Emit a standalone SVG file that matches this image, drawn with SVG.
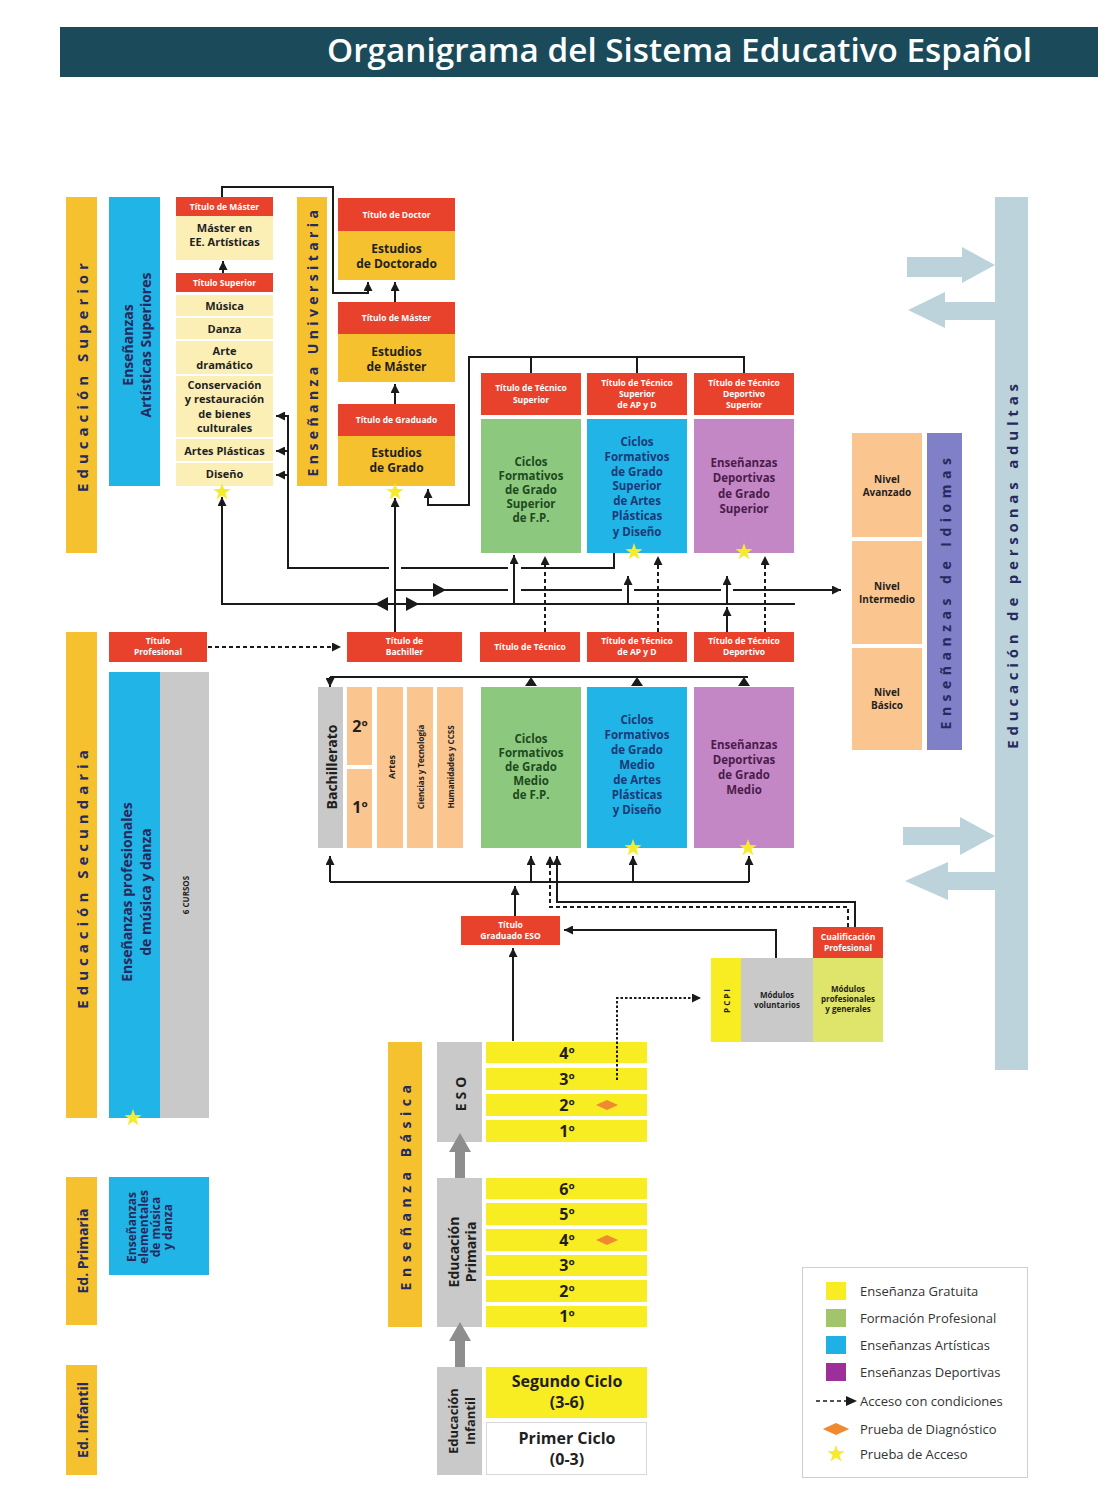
<svg xmlns="http://www.w3.org/2000/svg" width="1098" height="1495" viewBox="0 0 1098 1495">
<style>
.t{font-family:"Open Sans","DejaVu Sans",sans-serif;font-weight:700;text-anchor:middle}
.rt{fill:#fff;font-size:8.5px}
.k{fill:#1f1f1f}
.nv{fill:#262a5c}
.g{fill:#1e4a1e;font-size:11.5px}
.b{fill:#1b3a78;font-size:11.5px}
.p{fill:#4a1c4c;font-size:11.5px}
.red{fill:#e8412c}
.gold{fill:#f6c12e}
.cy{fill:#20b4e7}
.gr{fill:#8cc97e}
.pu{fill:#c487c6}
.or{fill:#fbc590}
.gy{fill:#c9c9c9}
.ye{fill:#f8ec22}
.cr{fill:#fcefb6}
.ln{stroke:#1a1a1a;stroke-width:2;fill:none}
.ds{stroke-dasharray:4 3}
.dt{stroke-dasharray:2.5 2}
.star{fill:#f6ea2c}
.dia{fill:#ef8a2e}
.leg{font-family:"Open Sans","DejaVu Sans",sans-serif;font-size:13px;fill:#333}
</style>
<defs>
<marker id="a" viewBox="0 0 10 10" refX="10" refY="5" markerWidth="4.5" markerHeight="4.5" orient="auto"><path d="M0,0 L10,5 L0,10 z" fill="#1a1a1a"/></marker>
<path id="st" d="M0,-9 L2.12,-2.91 L8.56,-2.78 L3.42,1.11 L5.29,7.28 L0,3.6 L-5.29,7.28 L-3.42,1.11 L-8.56,-2.78 L-2.12,-2.91 Z"/>
<path id="dm" d="M-11,0 L0,-5 L11,0 L0,5 Z"/>
</defs>
<rect width="1098" height="1495" fill="#fff"/>

<g id="title">
<rect x="60" y="27" width="1038" height="50" fill="#1b4b5b"/>
<text x="1032" y="62" text-anchor="end" font-family="'Open Sans','DejaVu Sans',sans-serif" font-weight="600" font-size="33" fill="#fff" textLength="705" lengthAdjust="spacingAndGlyphs">Organigrama del Sistema Educativo Español</text>
</g>

<g id="side-labels">
<rect x="66" y="197" width="31" height="356" class="gold"/>
<text class="t nv" font-size="15" letter-spacing="5" transform="translate(82,375) rotate(-90)" dominant-baseline="central">Educación Superior</text>
<rect x="66" y="632" width="31" height="486" class="gold"/>
<text class="t nv" font-size="15" letter-spacing="5" transform="translate(82,877) rotate(-90)" dominant-baseline="central">Educación Secundaria</text>
<rect x="66" y="1177" width="31" height="148" class="gold"/>
<text class="t nv" font-size="14" transform="translate(82,1251) rotate(-90)" dominant-baseline="central">Ed. Primaria</text>
<rect x="66" y="1365" width="31" height="110" class="gold"/>
<text class="t nv" font-size="14" transform="translate(82,1420) rotate(-90)" dominant-baseline="central">Ed. Infantil</text>
</g>

<g id="artisticas-superiores">
<rect x="109" y="197" width="51" height="289" class="cy"/>
<text class="t nv" font-size="14" transform="translate(127,345) rotate(-90)" dominant-baseline="central">Enseñanzas</text>
<text class="t nv" font-size="14" transform="translate(145,345) rotate(-90)" dominant-baseline="central">Artísticas Superiores</text>
</g>

<g id="master-artisticas">
<rect x="176" y="197" width="97" height="19" class="red"/>
<text class="t rt" x="224.5" y="210">Título de Máster</text>
<rect x="176" y="216" width="97" height="44" class="cr"/>
<text class="t k" font-size="11" x="224.5" y="232">Máster en</text>
<text class="t k" font-size="11" x="224.5" y="246">EE. Artísticas</text>
</g>

<g id="titulo-superior-artes">
<rect x="176" y="273" width="97" height="19" class="red"/>
<text class="t rt" x="224.5" y="286">Título Superior</text>
<rect x="176" y="295" width="97" height="21" class="cr"/>
<text class="t k" font-size="11" x="224.5" y="310">Música</text>
<rect x="176" y="318" width="97" height="21" class="cr"/>
<text class="t k" font-size="11" x="224.5" y="333">Danza</text>
<rect x="176" y="341" width="97" height="33" class="cr"/>
<text class="t k" font-size="11" x="224.5" y="355">Arte</text>
<text class="t k" font-size="11" x="224.5" y="369">dramático</text>
<rect x="176" y="376" width="97" height="61" class="cr"/>
<text class="t k" font-size="11" x="224.5" y="389">Conservación</text>
<text class="t k" font-size="11" x="224.5" y="403">y restauración</text>
<text class="t k" font-size="11" x="224.5" y="418">de bienes</text>
<text class="t k" font-size="11" x="224.5" y="432">culturales</text>
<rect x="176" y="439" width="97" height="22" class="cr"/>
<text class="t k" font-size="11" x="224.5" y="455">Artes Plásticas</text>
<rect x="176" y="463" width="97" height="23" class="cr"/>
<text class="t k" font-size="11" x="224.5" y="478">Diseño</text>
</g>

<g id="universitaria">
<rect x="297" y="197" width="30" height="289" class="gold"/>
<text class="t nv" font-size="14" letter-spacing="4.4" transform="translate(312,341) rotate(-90)" dominant-baseline="central">Enseñanza Universitaria</text>
</g>

<g id="doctorado">
<rect x="338" y="198" width="117" height="33" class="red"/>
<text class="t rt" x="396.5" y="218">Título de Doctor</text>
<rect x="338" y="231" width="117" height="49" class="gold"/>
<text class="t k" font-size="12" x="396.5" y="253">Estudios</text>
<text class="t k" font-size="12" x="396.5" y="268">de Doctorado</text>
</g>
<g id="master">
<rect x="338" y="302" width="117" height="32" class="red"/>
<text class="t rt" x="396.5" y="321">Título de Máster</text>
<rect x="338" y="334" width="117" height="48" class="gold"/>
<text class="t k" font-size="12" x="396.5" y="356">Estudios</text>
<text class="t k" font-size="12" x="396.5" y="371">de Máster</text>
</g>
<g id="grado">
<rect x="338" y="404" width="117" height="32" class="red"/>
<text class="t rt" x="396.5" y="423">Título de Graduado</text>
<rect x="338" y="436" width="117" height="50" class="gold"/>
<text class="t k" font-size="12" x="396.5" y="457">Estudios</text>
<text class="t k" font-size="12" x="396.5" y="472">de Grado</text>
</g>

<g id="fp-superior">
<rect x="481" y="373" width="100" height="42" class="red"/>
<text class="t rt" x="531" y="391">Título de Técnico</text>
<text class="t rt" x="531" y="403">Superior</text>
<rect x="481" y="419" width="100" height="134" class="gr"/>
<text class="t g" x="531" y="466">Ciclos</text>
<text class="t g" x="531" y="480">Formativos</text>
<text class="t g" x="531" y="494">de Grado</text>
<text class="t g" x="531" y="508">Superior</text>
<text class="t g" x="531" y="522">de F.P.</text>
</g>
<g id="apd-superior">
<rect x="587" y="373" width="100" height="42" class="red"/>
<text class="t rt" x="637" y="386">Título de Técnico</text>
<text class="t rt" x="637" y="397">Superior</text>
<text class="t rt" x="637" y="408">de AP y D</text>
<rect x="587" y="419" width="100" height="134" class="cy"/>
<text class="t b" x="637" y="446">Ciclos</text>
<text class="t b" x="637" y="461">Formativos</text>
<text class="t b" x="637" y="476">de Grado</text>
<text class="t b" x="637" y="490">Superior</text>
<text class="t b" x="637" y="505">de Artes</text>
<text class="t b" x="637" y="520">Plásticas</text>
<text class="t b" x="637" y="536">y Diseño</text>
</g>
<g id="dep-superior">
<rect x="694" y="373" width="100" height="42" class="red"/>
<text class="t rt" x="744" y="386">Título de Técnico</text>
<text class="t rt" x="744" y="397">Deportivo</text>
<text class="t rt" x="744" y="408">Superior</text>
<rect x="694" y="419" width="100" height="134" class="pu"/>
<text class="t p" x="744" y="467">Enseñanzas</text>
<text class="t p" x="744" y="482">Deportivas</text>
<text class="t p" x="744" y="498">de Grado</text>
<text class="t p" x="744" y="513">Superior</text>
</g>

<g id="idiomas">
<rect x="852" y="433" width="70" height="104" class="or"/>
<text class="t k" font-size="10" x="887" y="483">Nivel</text>
<text class="t k" font-size="10" x="887" y="496">Avanzado</text>
<rect x="852" y="541" width="70" height="103" class="or"/>
<text class="t k" font-size="10" x="887" y="590">Nivel</text>
<text class="t k" font-size="10" x="887" y="603">Intermedio</text>
<rect x="852" y="648" width="70" height="102" class="or"/>
<text class="t k" font-size="10" x="887" y="696">Nivel</text>
<text class="t k" font-size="10" x="887" y="709">Básico</text>
<rect x="927" y="433" width="35" height="317" fill="#7f80c8"/>
<text class="t nv" font-size="14" letter-spacing="5.5" transform="translate(945,591) rotate(-90)" dominant-baseline="central">Enseñanzas de Idiomas</text>
</g>

<g id="adultas">
<rect x="995" y="197" width="33" height="873" fill="#bcd3dc"/>
<text class="t nv" font-size="15" letter-spacing="4.8" transform="translate(1012,564) rotate(-90)" dominant-baseline="central">Educación de personas adultas</text>
<polygon points="907,257 962,257 962,247 995,265 962,283 962,277 907,277" fill="#bcd3dc"/>
<polygon points="995,302 945,302 945,292 908,310 945,328 945,320 995,320" fill="#bcd3dc"/>
<polygon points="903,827 960,827 960,817 995,836 960,855 960,845 903,845" fill="#bcd3dc"/>
<polygon points="995,872 948,872 948,862 905,881 948,900 948,890 995,890" fill="#bcd3dc"/>
</g>

<g id="musica-danza-prof">
<rect x="109" y="632" width="98" height="30" class="red"/>
<text class="t rt" x="158" y="644">Título</text>
<text class="t rt" x="158" y="655">Profesional</text>
<rect x="109" y="672" width="51" height="446" class="cy"/>
<text class="t nv" font-size="14" transform="translate(126,892) rotate(-90)" dominant-baseline="central">Enseñanzas profesionales</text>
<text class="t nv" font-size="14" transform="translate(145,892) rotate(-90)" dominant-baseline="central">de música y danza</text>
<rect x="160" y="672" width="49" height="446" class="gy"/>
<text class="t k" font-size="8" transform="translate(185,895) rotate(-90)" dominant-baseline="central">6 CURSOS</text>
</g>

<g id="musica-danza-elem">
<rect x="109" y="1177" width="100" height="98" class="cy"/>
<text class="t nv" font-size="12" transform="translate(131,1227) rotate(-90)" dominant-baseline="central">Enseñanzas</text>
<text class="t nv" font-size="12" transform="translate(143,1227) rotate(-90)" dominant-baseline="central">elementales</text>
<text class="t nv" font-size="12" transform="translate(155,1227) rotate(-90)" dominant-baseline="central">de música</text>
<text class="t nv" font-size="12" transform="translate(167,1227) rotate(-90)" dominant-baseline="central">y danza</text>
</g>

<g id="titulos-medios">
<rect x="347" y="632" width="115" height="30" class="red"/>
<text class="t rt" x="404.5" y="644">Título de</text>
<text class="t rt" x="404.5" y="655">Bachiller</text>
<rect x="480" y="632" width="100" height="30" class="red"/>
<text class="t rt" x="530" y="650">Título de Técnico</text>
<rect x="587" y="632" width="100" height="30" class="red"/>
<text class="t rt" x="637" y="644">Título de Técnico</text>
<text class="t rt" x="637" y="655">de AP y D</text>
<rect x="694" y="632" width="100" height="30" class="red"/>
<text class="t rt" x="744" y="644">Título de Técnico</text>
<text class="t rt" x="744" y="655">Deportivo</text>
</g>

<g id="bachillerato">
<rect x="318" y="687" width="25" height="161" class="gy"/>
<text class="t k" font-size="14" transform="translate(331,767) rotate(-90)" dominant-baseline="central">Bachillerato</text>
<rect x="347" y="687" width="25" height="78" class="or"/>
<text class="t k" font-size="16" x="360" y="732">2º</text>
<rect x="347" y="769" width="25" height="79" class="or"/>
<text class="t k" font-size="16" x="360" y="813">1º</text>
<rect x="377" y="687" width="26" height="161" class="or"/>
<text class="t k" font-size="9" transform="translate(391,767) rotate(-90)" dominant-baseline="central">Artes</text>
<rect x="407" y="687" width="26" height="161" class="or"/>
<text class="t k" font-size="8" transform="translate(420,767) rotate(-90)" dominant-baseline="central">Ciencias y Tecnología</text>
<rect x="437" y="687" width="26" height="161" class="or"/>
<text class="t k" font-size="8" transform="translate(450,767) rotate(-90)" dominant-baseline="central">Humanidades y CCSS</text>
</g>

<g id="fp-medio">
<rect x="481" y="687" width="100" height="161" class="gr"/>
<text class="t g" x="531" y="743">Ciclos</text>
<text class="t g" x="531" y="757">Formativos</text>
<text class="t g" x="531" y="771">de Grado</text>
<text class="t g" x="531" y="785">Medio</text>
<text class="t g" x="531" y="799">de F.P.</text>
</g>
<g id="apd-medio">
<rect x="587" y="687" width="100" height="161" class="cy"/>
<text class="t b" x="637" y="724">Ciclos</text>
<text class="t b" x="637" y="739">Formativos</text>
<text class="t b" x="637" y="754">de Grado</text>
<text class="t b" x="637" y="769">Medio</text>
<text class="t b" x="637" y="784">de Artes</text>
<text class="t b" x="637" y="799">Plásticas</text>
<text class="t b" x="637" y="814">y Diseño</text>
</g>
<g id="dep-medio">
<rect x="694" y="687" width="100" height="161" class="pu"/>
<text class="t p" x="744" y="749">Enseñanzas</text>
<text class="t p" x="744" y="764">Deportivas</text>
<text class="t p" x="744" y="779">de Grado</text>
<text class="t p" x="744" y="794">Medio</text>
</g>

<g id="titulo-eso">
<rect x="461" y="916" width="99" height="29" class="red"/>
<text class="t rt" x="510.5" y="928">Título</text>
<text class="t rt" x="510.5" y="939">Graduado ESO</text>
</g>

<g id="pcpi">
<rect x="813" y="927" width="70" height="31" class="red"/>
<text class="t rt" font-size="8" x="848" y="940">Cualificación</text>
<text class="t rt" font-size="8" x="848" y="951">Profesional</text>
<rect x="711" y="958" width="30" height="84" class="ye"/>
<text class="t k" font-size="8" letter-spacing="2" transform="translate(726,1000) rotate(-90)" dominant-baseline="central">PCPI</text>
<rect x="741" y="958" width="72" height="84" class="gy"/>
<text class="t k" font-size="8" x="777" y="998">Módulos</text>
<text class="t k" font-size="8" x="777" y="1008">voluntarios</text>
<rect x="813" y="958" width="70" height="84" fill="#dfe46a"/>
<text class="t k" font-size="8" x="848" y="992">Módulos</text>
<text class="t k" font-size="8" x="848" y="1002">profesionales</text>
<text class="t k" font-size="8" x="848" y="1012">y generales</text>
</g>

<g id="ensenanza-basica">
<rect x="388" y="1042" width="34" height="285" class="gold"/>
<text class="t nv" font-size="14" letter-spacing="5.5" transform="translate(405,1185) rotate(-90)" dominant-baseline="central">Enseñanza Básica</text>
</g>

<g id="eso">
<rect x="437" y="1042" width="45" height="100" class="gy"/>
<text class="t k" font-size="14" letter-spacing="4" transform="translate(460,1092) rotate(-90)" dominant-baseline="central">ESO</text>
<rect x="486" y="1042" width="161" height="21" class="ye"/><text class="t k" font-size="16" x="567" y="1059">4º</text>
<rect x="486" y="1068" width="161" height="22" class="ye"/><text class="t k" font-size="16" x="567" y="1085">3º</text>
<rect x="486" y="1094" width="161" height="22" class="ye"/><text class="t k" font-size="16" x="567" y="1111">2º</text>
<rect x="486" y="1120" width="161" height="22" class="ye"/><text class="t k" font-size="16" x="567" y="1137">1º</text>
</g>

<g id="primaria">
<rect x="437" y="1178" width="45" height="149" class="gy"/>
<text class="t k" font-size="14" transform="translate(453,1252) rotate(-90)" dominant-baseline="central">Educación</text>
<text class="t k" font-size="14" transform="translate(470,1252) rotate(-90)" dominant-baseline="central">Primaria</text>
<rect x="486" y="1178" width="161" height="21" class="ye"/><text class="t k" font-size="16" x="567" y="1195">6º</text>
<rect x="486" y="1203" width="161" height="22" class="ye"/><text class="t k" font-size="16" x="567" y="1220">5º</text>
<rect x="486" y="1229" width="161" height="22" class="ye"/><text class="t k" font-size="16" x="567" y="1246">4º</text>
<rect x="486" y="1255" width="161" height="21" class="ye"/><text class="t k" font-size="16" x="567" y="1271">3º</text>
<rect x="486" y="1280" width="161" height="22" class="ye"/><text class="t k" font-size="16" x="567" y="1297">2º</text>
<rect x="486" y="1306" width="161" height="21" class="ye"/><text class="t k" font-size="16" x="567" y="1322">1º</text>
</g>

<g id="infantil">
<rect x="437" y="1367" width="45" height="108" class="gy"/>
<text class="t k" font-size="13" transform="translate(453,1421) rotate(-90)" dominant-baseline="central">Educación</text>
<text class="t k" font-size="13" transform="translate(470,1421) rotate(-90)" dominant-baseline="central">Infantil</text>
<rect x="486" y="1367" width="161" height="51" class="ye"/>
<text class="t k" font-size="16" x="567" y="1387">Segundo Ciclo</text>
<text class="t k" font-size="16" x="567" y="1408">(3-6)</text>
<rect x="486.5" y="1422.5" width="160" height="52" fill="#fff" stroke="#d8d8d8"/>
<text class="t k" font-size="16" x="567" y="1444">Primer Ciclo</text>
<text class="t k" font-size="16" x="567" y="1465">(0-3)</text>
</g>

<g id="connectors">
<path class="ln" d="M222,197 V187 H333 V293 H368 V282" marker-end="url(#a)"/>
<path class="ln" d="M223,273 V261" marker-end="url(#a)"/>
<path class="ln" d="M395,302 V282" marker-end="url(#a)"/>
<path class="ln" d="M395,404 V384" marker-end="url(#a)"/>
<path class="ln" d="M531,373 V357 M637,373 V357"/>
<path class="ln" d="M744,373 V357 H469 V505 H428 V489" marker-end="url(#a)"/>
<path class="ln" d="M614,553 V568 H521 M508,568 H401"/>
<path class="ln" d="M389,568 H288 V416 H276" marker-end="url(#a)"/>
<path class="ln" d="M288,451 H276" marker-end="url(#a)"/>
<path class="ln" d="M288,475 H276" marker-end="url(#a)"/>
<path class="ln" d="M395,632 V498" marker-end="url(#a)"/>
<path class="ln" d="M795,604 H222 V497" marker-end="url(#a)"/>
<polygon points="375,604 388,597 388,611" fill="#1a1a1a"/>
<polygon points="419,604 406,597 406,611" fill="#1a1a1a"/>
<path class="ln" d="M395,590 H508 M521,590 H622 M634,590 H721"/>
<path class="ln" d="M733,590 H841" marker-end="url(#a)"/>
<polygon points="446,590 433,583 433,597" fill="#1a1a1a"/>
<path class="ln" d="M514,604 V555" marker-end="url(#a)"/>
<path class="ln" d="M628,604 V576" marker-end="url(#a)"/>
<path class="ln" d="M727,632 V607" marker-end="url(#a)"/>
<path class="ln" d="M727,604 V576" marker-end="url(#a)"/>
<path class="ln ds" d="M545,632 V556" marker-end="url(#a)"/>
<path class="ln ds" d="M658,632 V556" marker-end="url(#a)"/>
<path class="ln ds" d="M765,632 V556" marker-end="url(#a)"/>
<path class="ln ds" d="M208,647 H341" marker-end="url(#a)"/>
<path class="ln" d="M330,677 H748"/>
<path class="ln" d="M330,677 V687" marker-end="url(#a)"/>
<polygon points="531,677 525,686 537,686" fill="#1a1a1a"/>
<polygon points="637,677 631,686 643,686" fill="#1a1a1a"/>
<polygon points="744,677 738,686 750,686" fill="#1a1a1a"/>
<path class="ln" d="M330,882 H749"/>
<path class="ln" d="M330,882 V856" marker-end="url(#a)"/>
<path class="ln" d="M531,882 V856" marker-end="url(#a)"/>
<path class="ln" d="M633,882 V856" marker-end="url(#a)"/>
<path class="ln" d="M749,882 V856" marker-end="url(#a)"/>
<path class="ln" d="M515,916 V886" marker-end="url(#a)"/>
<path class="ln" d="M513,1041 V948" marker-end="url(#a)"/>
<path class="ln" d="M776,958 V930 H564" marker-end="url(#a)"/>
<path class="ln" d="M855,927 V902 H557 V856" marker-end="url(#a)"/>
<path class="ln ds" d="M848,927 V907 H550 V856" marker-end="url(#a)"/>
<path class="ln dt" d="M617,1080 V998 H701" marker-end="url(#a)"/>
<polygon points="460,1133 471,1152 465,1152 465,1178 455,1178 455,1152 449,1152" fill="#8e8e8e"/>
<polygon points="460,1322 471,1341 465,1341 465,1367 455,1367 455,1341 449,1341" fill="#8e8e8e"/>
</g>

<g id="marks">
<use href="#st" class="star" x="222" y="492"/>
<use href="#st" class="star" x="395" y="492"/>
<use href="#st" class="star" x="634" y="552"/>
<use href="#st" class="star" x="744" y="552"/>
<use href="#st" class="star" x="633" y="848"/>
<use href="#st" class="star" x="748" y="848"/>
<use href="#st" class="star" x="133" y="1118"/>
<use href="#dm" class="dia" x="607" y="1105"/>
<use href="#dm" class="dia" x="607" y="1240"/>
</g>

<g id="legend">
<rect x="802.5" y="1267.5" width="225" height="210" fill="#fff" stroke="#cfcfcf"/>
<rect x="826" y="1282" width="20" height="18" fill="#f8ec22"/>
<text class="leg" x="860" y="1296">Enseñanza Gratuita</text>
<rect x="826" y="1309" width="20" height="18" fill="#a2c46a"/>
<text class="leg" x="860" y="1323">Formación Profesional</text>
<rect x="826" y="1336" width="20" height="18" fill="#1fb0e6"/>
<text class="leg" x="860" y="1350">Enseñanzas Artísticas</text>
<rect x="826" y="1363" width="20" height="18" fill="#9c2f9a"/>
<text class="leg" x="860" y="1377">Enseñanzas Deportivas</text>
<path class="ln ds" style="stroke-width:1.5" d="M816,1401 H848"/>
<polygon points="857,1401 846,1396 846,1406" fill="#1a1a1a"/>
<text class="leg" x="860" y="1406">Acceso con condiciones</text>
<use href="#dm" class="dia" transform="translate(836,1429) scale(1.2)"/>
<text class="leg" x="860" y="1434">Prueba de Diagnóstico</text>
<use href="#st" class="star" x="836" y="1454"/>
<text class="leg" x="860" y="1459">Prueba de Acceso</text>
</g>
</svg>
